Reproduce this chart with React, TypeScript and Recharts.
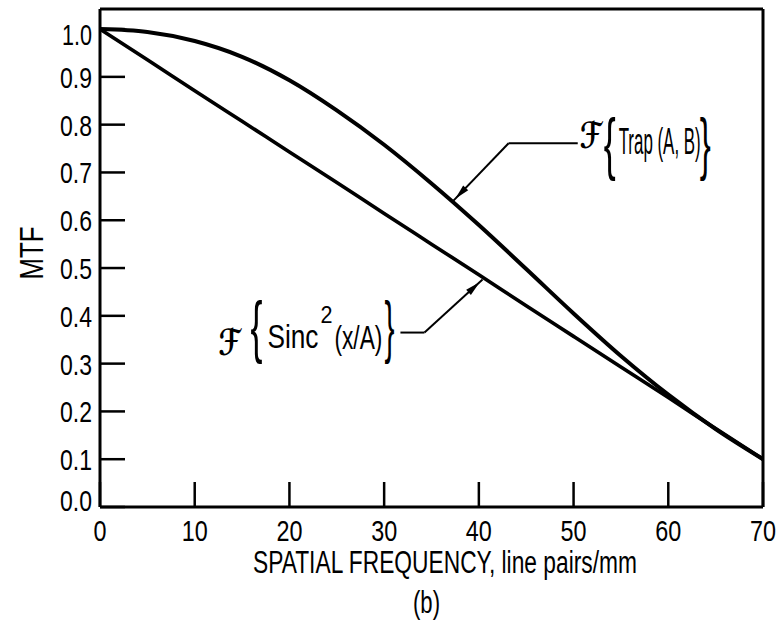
import {
  LineChart,
  Line,
  XAxis,
  YAxis,
  ReferenceLine,
  ReferenceDot,
} from "recharts";

// spatial frequency, line pairs/mm
const freq = [0, 5, 10, 15, 20, 25, 30, 35, 40, 45, 50, 55, 60, 65, 70];
// F{Trap(A,B)}
const trapMtf = [1.0, 0.994, 0.975, 0.942, 0.893, 0.83, 0.758, 0.677, 0.59, 0.498, 0.405, 0.316, 0.235, 0.163, 0.1];
// F{Sinc^2(x/A)}
const sincMtf = [1.0, 0.936, 0.871, 0.807, 0.743, 0.679, 0.614, 0.55, 0.486, 0.421, 0.357, 0.293, 0.229, 0.164, 0.1];

const xTicks = [0, 10, 20, 30, 40, 50, 60, 70];
const yTicks = [0, 0.1, 0.2, 0.3, 0.4, 0.5, 0.6, 0.7, 0.8, 0.9, 1.0];

const data = freq.map((f, i) => ({ f, trap: trapMtf[i], sinc: sincMtf[i] }));

const FONT = "'Liberation Sans', Arial, sans-serif";
const SCRIPT = "'DejaVu Serif', 'DejaVu Sans', serif";
const INK = "#000";

function BottomTick(props: any) {
  const { x, y, payload } = props;
  const label = String(payload.value);
  return (
    <g>
      <line x1={x} y1={y} x2={x} y2={y - 25} stroke={INK} strokeWidth={2.5} />
      <text
        x={x}
        y={y + 34}
        textAnchor="middle"
        fontSize={30}
        fontFamily={FONT}
        fill={INK}
        textLength={label.length * 13}
        lengthAdjust="spacingAndGlyphs"
      >
        {label}
      </text>
    </g>
  );
}

function LeftTick(props: any) {
  const { x, y, payload } = props;
  const label = Number(payload.value).toFixed(1);
  // end labels are nudged inward, as in the original drawing
  const nudge = label === "1.0" ? 5 : label === "0.0" ? -7 : 0;
  return (
    <g>
      <line x1={x} y1={y} x2={x + 25} y2={y} stroke={INK} strokeWidth={2.5} />
      <text
        x={x - 8}
        y={y + 11 + nudge}
        textAnchor="end"
        fontSize={30}
        fontFamily={FONT}
        fill={INK}
        textLength={label === "1.0" ? 30 : 32}
        lengthAdjust="spacingAndGlyphs"
      >
        {label}
      </text>
    </g>
  );
}

function XTitle(props: any) {
  const { viewBox } = props;
  const { x, y } = viewBox;
  return (
    <g fontFamily={FONT} fill={INK}>
      <text x={x + 153} y={y + 66} fontSize={31} textLength={384} lengthAdjust="spacingAndGlyphs">
        SPATIAL FREQUENCY, line pairs/mm
      </text>
      <text x={x + 313} y={y + 106} fontSize={31} textLength={27} lengthAdjust="spacingAndGlyphs">
        (b)
      </text>
    </g>
  );
}

function YTitle(props: any) {
  const { viewBox } = props;
  const cx = viewBox.x + 13;
  const cy = 253;
  return (
    <text
      x={cx}
      y={cy}
      transform={`rotate(-90, ${cx}, ${cy})`}
      textAnchor="middle"
      fontSize={34}
      fontFamily={FONT}
      fill={INK}
      textLength={53}
      lengthAdjust="spacingAndGlyphs"
    >
      MTF
    </text>
  );
}

function Leader(props: any) {
  const { x1, y1, x2, y2 } = props;
  return <line x1={x1} y1={y1} x2={x2} y2={y2} stroke={INK} strokeWidth={2} />;
}

function ArrowLeader(props: any) {
  const { x1, y1, x2, y2 } = props;
  const dx = x2 - x1;
  const dy = y2 - y1;
  const len = Math.hypot(dx, dy) || 1;
  const ux = dx / len;
  const uy = dy / len;
  const tipX = x2 - ux * 4;
  const tipY = y2 - uy * 4;
  const bx = tipX - ux * 15;
  const by = tipY - uy * 15;
  const w = 3.5;
  const pts = `${tipX},${tipY} ${bx - uy * w},${by + ux * w} ${bx + uy * w},${by - ux * w}`;
  return (
    <g>
      <line x1={x1} y1={y1} x2={x2} y2={y2} stroke={INK} strokeWidth={2} />
      <polygon points={pts} fill={INK} />
    </g>
  );
}

function ScriptF({ x, y }: { x: number; y: number }) {
  return (
    <text x={x} y={y} fontSize={36} fontFamily={SCRIPT} fontStyle="italic" fontWeight="bold" textLength={22} lengthAdjust="spacingAndGlyphs">
      ℱ
    </text>
  );
}

function TrapLabel(props: any) {
  const { cx, cy } = props;
  return (
    <g fontFamily={FONT} fill={INK}>
      <ScriptF x={cx + 1} y={cy - 2} />
      <text x={cx + 25} y={cy + 17} fontSize={69} textLength={12} lengthAdjust="spacingAndGlyphs">
        {"{"}
      </text>
      <text x={cx + 40} y={cy + 4} fontSize={37} textLength={82} lengthAdjust="spacingAndGlyphs">
        Trap (A, B)
      </text>
      <text x={cx + 121} y={cy + 17} fontSize={69} textLength={11} lengthAdjust="spacingAndGlyphs">
        {"}"}
      </text>
    </g>
  );
}

function SincLabel(props: any) {
  const { cx, cy } = props;
  return (
    <g fontFamily={FONT} fill={INK}>
      <ScriptF x={cx - 177} y={cy + 22} />
      <text x={cx - 145} y={cy + 17} fontSize={69} textLength={12} lengthAdjust="spacingAndGlyphs">
        {"{"}
      </text>
      <text x={cx - 128} y={cy + 15} fontSize={34} textLength={51} lengthAdjust="spacingAndGlyphs">
        Sinc
      </text>
      <text x={cx - 75} y={cy - 10} fontSize={23} textLength={12} lengthAdjust="spacingAndGlyphs">
        2
      </text>
      <text x={cx - 61} y={cy + 16} fontSize={33} textLength={48} lengthAdjust="spacingAndGlyphs">
        (x/A)
      </text>
      <text x={cx - 11} y={cy + 17} fontSize={69} textLength={10} lengthAdjust="spacingAndGlyphs">
        {"}"}
      </text>
    </g>
  );
}

export default function App() {
  const axisLine = { stroke: INK, strokeWidth: 3 };
  return (
    <div style={{ position: "absolute", left: 0, top: 0, width: 780, height: 633, background: "#fff" }}>
      <LineChart width={780} height={633} data={data} margin={{ top: 9, right: 17, bottom: 86, left: 30 }}>
        <XAxis
          xAxisId="b"
          dataKey="f"
          type="number"
          domain={[0, 70]}
          ticks={xTicks}
          allowDataOverflow
          height={40}
          axisLine={axisLine}
          tickLine={false}
          tickSize={0}
          tickMargin={0}
          tick={<BottomTick />}
          label={{ content: <XTitle /> }}
        />
        <XAxis
          xAxisId="t"
          dataKey="f"
          orientation="top"
          type="number"
          domain={[0, 70]}
          ticks={xTicks}
          allowDataOverflow
          height={1}
          mirror
          axisLine={axisLine}
          tickLine={{ stroke: INK, strokeWidth: 2.5 }}
          tickSize={25}
          tick={false}
        />
        <YAxis
          yAxisId="l"
          type="number"
          domain={[0, 1.042]}
          ticks={yTicks}
          allowDataOverflow
          width={70}
          axisLine={axisLine}
          tickLine={false}
          tickSize={0}
          tickMargin={0}
          tick={<LeftTick />}
          label={{ content: <YTitle /> }}
        />
        <YAxis
          yAxisId="r"
          orientation="right"
          type="number"
          domain={[0, 1.042]}
          ticks={yTicks}
          allowDataOverflow
          width={1}
          mirror
          axisLine={axisLine}
          tickLine={{ stroke: INK, strokeWidth: 2.5 }}
          tickSize={25}
          tick={false}
        />
        {/* invisible series so the top and right frame axes are drawn */}
        <Line
          xAxisId="t"
          yAxisId="r"
          dataKey="trap"
          stroke="none"
          strokeOpacity={0}
          dot={false}
          activeDot={false}
          isAnimationActive={false}
        />
        <Line
          xAxisId="b"
          yAxisId="l"
          dataKey="trap"
          type="monotone"
          stroke={INK}
          strokeWidth={4}
          dot={false}
          isAnimationActive={false}
        />
        <Line
          xAxisId="b"
          yAxisId="l"
          dataKey="sinc"
          type="monotone"
          stroke={INK}
          strokeWidth={3.6}
          dot={false}
          isAnimationActive={false}
        />
        <ReferenceLine
          xAxisId="b"
          yAxisId="l"
          segment={[{ x: 43.14, y: 0.761 }, { x: 50.44, y: 0.761 }]}
          ifOverflow="visible"
          shape={<Leader />}
        />
        <ReferenceLine
          xAxisId="b"
          yAxisId="l"
          segment={[{ x: 43.14, y: 0.761 }, { x: 37.22, y: 0.639 }]}
          ifOverflow="visible"
          shape={<ArrowLeader />}
        />
        <ReferenceLine
          xAxisId="b"
          yAxisId="l"
          segment={[{ x: 31.72, y: 0.365 }, { x: 34.26, y: 0.365 }]}
          ifOverflow="visible"
          shape={<Leader />}
        />
        <ReferenceLine
          xAxisId="b"
          yAxisId="l"
          segment={[{ x: 34.26, y: 0.365 }, { x: 40.39, y: 0.476 }]}
          ifOverflow="visible"
          shape={<ArrowLeader />}
        />
        <ReferenceDot xAxisId="b" yAxisId="l" x={50.54} y={0.748} r={0} ifOverflow="visible" shape={<TrapLabel />} />
        <ReferenceDot xAxisId="b" yAxisId="l" x={31.19} y={0.365} r={0} ifOverflow="visible" shape={<SincLabel />} />
      </LineChart>
    </div>
  );
}
